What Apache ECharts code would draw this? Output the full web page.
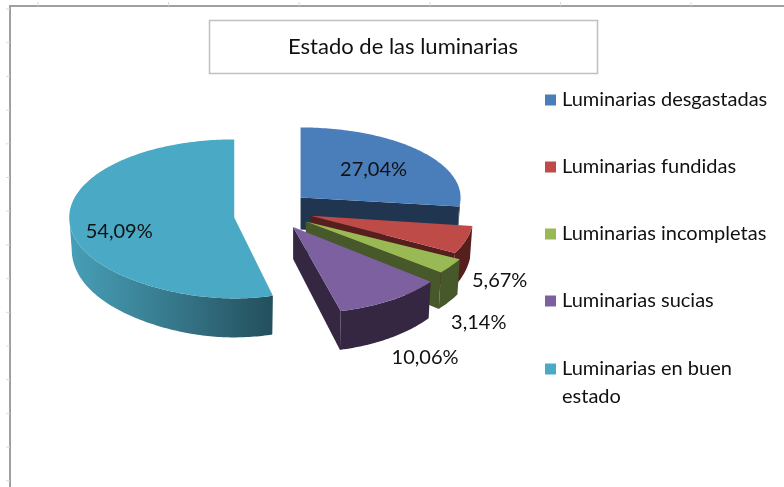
<!DOCTYPE html>
<html><head><meta charset="utf-8">
<style>html,body{margin:0;padding:0;background:#fff}#c{width:784px;height:487px}</style>
<script src="https://cdn.jsdelivr.net/npm/echarts@6/dist/echarts.min.js"></script>
</head><body><div id="c"></div>
<script>
const titleText = 'Estado de las luminarias';
const categories = ['Luminarias desgastadas','Luminarias fundidas','Luminarias incompletas','Luminarias sucias','Luminarias en buen estado'];
const values = [27.04, 5.67, 3.14, 10.06, 54.09];

// presentation only
const topColors  = ['#4a7ebb','#be4b48','#98b954','#7d60a0','#4aa9c4'];
const wallColors = ['#1f3550','#561f1e','#47582a','#352642','#2f6a7c'];
const explode    = [50, 50, 50, 50, 29];
const shiftX     = [0, 0, 1, 3, 0];
const shiftY     = [0, 0, 1, 1, 6];
const radiusX    = [160, 163, 174, 175, 165];
const radiusY    = [70, 80, 81, 87, 81];
const radiusYBack= [70, 80, 81, 87, 78];
const frontNarrow= [0, 0, 0, -0.08, 0.09];
const labelOffset= [[73,-28],[189,65],[173,101],[132,131],[-115,14]];
const seriesZ    = [3, 4, 5, 6, 2];
const centre = {x:263, y:210, tilt:0.38};

const total = values.reduce((a,b)=>a+b,0);
const rad = d => d*Math.PI/180;
let acc = 0;
const spans = values.map(v=>{const s=acc/total*360; acc+=v; return [s, acc/total*360];});

function depth(v){return 32+7*v;}
function renderSlice(i){
  return function(params, api){
    const start=api.value(0), end=api.value(1), val=api.value(2);
    const mid=rad((start+end)/2);
    const ax=centre.x+explode[i]*Math.sin(mid)+shiftX[i];
    const ay=centre.y-explode[i]*centre.tilt*Math.cos(mid)+shiftY[i];
    const rim=(deg)=>{
      const v=-Math.cos(rad(deg));
      const narrow=1-frontNarrow[i]*Math.pow(Math.max(0,v),4);
      return [ax+radiusX[i]*narrow*Math.sin(rad(deg)), ay+(v<0?radiusYBack[i]:radiusY[i])*v];
    };
    const low=(p,deg)=>[ax+(p[0]-ax)*0.985, p[1]+depth(-Math.cos(rad(deg)))];
    const children=[];
    const a=Math.max(start,90), b=Math.min(end,270);
    if(b>a){
      const upper=[],lower=[];
      for(let d=a;d<=b;d+=1){const p=rim(d);upper.push(p);lower.unshift(low(p,d));}
      const pe=rim(b);upper.push(pe);lower.unshift(low(pe,b));
      let fill=wallColors[i];
      if(i===4){fill=new echarts.graphic.LinearGradient(0,0,1,0,[{offset:0,color:'#479fb8'},{offset:0.5,color:'#37798c'},{offset:1,color:'#234f5c'}]);}
      children.push({type:'polygon',shape:{points:upper.concat(lower)},style:{fill:fill}});
    }
    if(end<180){
      const pe=rim(end);
      children.push({type:'polygon',shape:{points:[[ax,ay],pe,low(pe,end),[ax,ay+depth(0)]]},style:{fill:wallColors[i]}});
    }
    const top=[[ax,ay]];
    for(let d=start;d<end;d+=1) top.push(rim(d));
    top.push(rim(end));
    children.push({type:'polygon',shape:{points:top},style:{fill:topColors[i]}});
    children.push({type:'text',z2:50,style:{x:ax+labelOffset[i][0],y:ay+labelOffset[i][1],
      text:val.toFixed(2).replace('.',',')+'%',align:'center',verticalAlign:'middle',
      font:'20px Lato',fill:'#111'}});
    return {type:'group',children:children};
  };
}

const frame=[
 {type:'rect',shape:{x:10,y:6,width:790,height:500},style:{fill:'none',stroke:'#a0a0a0',lineWidth:2},silent:true},
 {type:'rect',shape:{x:209.5,y:20.5,width:388,height:53},style:{fill:'#fff',stroke:'#c0c0c0',lineWidth:1.5},silent:true}
];
for(let y=9;y<487;y+=33.7) frame.push({type:'line',shape:{x1:6,y1:y,x2:10,y2:y},style:{stroke:'#d4d9e6',lineWidth:1},silent:true});
for(let x=38;x<784;x+=130.6) frame.push({type:'line',shape:{x1:x,y1:2,x2:x,y2:6},style:{stroke:'#d4d9e6',lineWidth:1},silent:true});

const legendText={fontFamily:'Lato',fontSize:20,color:'#111',lineHeight:28,padding:[0,0,0,1]};
const chart=echarts.init(document.getElementById('c'),null,{renderer:'canvas'});
chart.setOption({
  animation:false,
  backgroundColor:'#fff',
  title:{text:titleText,left:398,top:31,textAlign:'center',textStyle:{fontFamily:'Lato',fontSize:22,fontWeight:'normal',color:'#111'},z:10},
  graphic:{elements:frame.map(e=>Object.assign({z:0},e))},
  legend:[
   {orient:'vertical',left:545,top:86,padding:0,itemWidth:11,itemHeight:11,itemGap:39,icon:'rect',selectedMode:false,
    textStyle:legendText,data:categories.slice(0,4)},
   {orient:'vertical',left:545,top:327,padding:0,itemWidth:11,itemHeight:11,icon:'rect',selectedMode:false,
    formatter:n=>'\n'+n.replace('buen ','buen\n'),
    textStyle:legendText,data:categories.slice(4)}
  ],
  series:categories.map((name,i)=>({
    type:'custom',name:name,coordinateSystem:'none',z:seriesZ[i],
    itemStyle:{color:topColors[i]},
    renderItem:renderSlice(i),
    silent:true,
    data:[[spans[i][0],spans[i][1],values[i]]]
  }))
});
</script></body></html>
